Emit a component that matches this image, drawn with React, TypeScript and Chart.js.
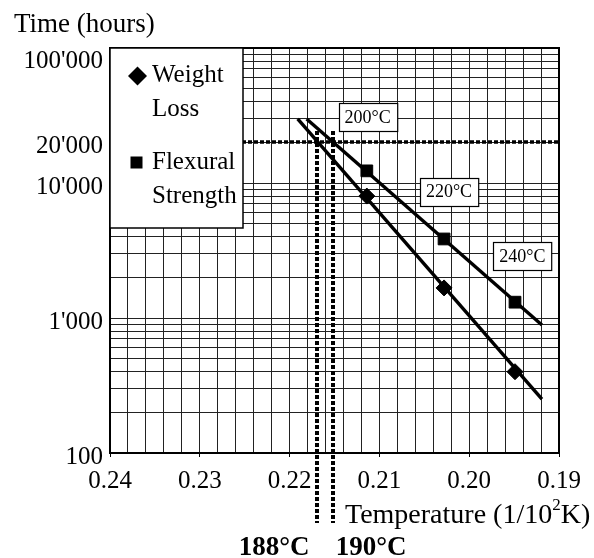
import React, { useEffect, useRef } from 'react';
import { Chart, registerables } from 'chart.js';

Chart.register(...registerables);

// ---- data ----
const tempAxis = [0.2114, 0.2028, 0.1949]; // 1/(100 K) at 200, 220, 240 °C
const weightLoss = [8000, 1670, 400];
const flexuralStrength = [12300, 3850, 1310];
const weightFitX = [0.2191, 0.1919];
const weightFitY = [29800, 251];
const flexFitX = [0.2181, 0.1919];
const flexFitY = [29800, 888];
const tempLabels = ['200°C', '220°C', '240°C'];
const tempLabelX = [0.2113, 0.20225, 0.19407];
const tempLabelY = [30800, 8650, 2855];
const limitLabels = ['188°C', '190°C'];
const limitX = [0.217, 0.2152];
const limitTopY = 24300;
const limitTime = 20000;
const yTickValues = [100, 1000, 10000, 20000, 100000];
const yTickLabels = ['100', "1'000", "10'000", "20'000", "100'000"];
const xMin = 0.19;
const xMax = 0.24;
const yMin = 100;
const yMax = 100000;
const legendLabels = [['Weight', 'Loss'], ['Flexural', 'Strength']];

const SERIF = '"Liberation Serif", "Times New Roman", serif';

function drawDiamond(ctx: CanvasRenderingContext2D, x: number, y: number, r: number) {
  ctx.beginPath();
  ctx.moveTo(x - r, y);
  ctx.lineTo(x, y - r);
  ctx.lineTo(x + r, y);
  ctx.lineTo(x, y + r);
  ctx.closePath();
  ctx.fill();
}

const overlayPlugin = {
  id: 'overlay',
  beforeDatasetsDraw(chart: any) {
    const { ctx, chartArea, scales } = chart;
    const xs = scales.x;
    const ys = scales.y;
    ctx.save();
    ctx.strokeStyle = '#000';
    // horizontal dotted line at 20'000 h
    ctx.lineWidth = 3.5;
    ctx.setLineDash([4, 2]);
    const yl = Math.round(ys.getPixelForValue(limitTime));
    ctx.beginPath();
    ctx.moveTo(chartArea.left, yl);
    ctx.lineTo(chartArea.right, yl);
    ctx.stroke();
    // vertical dotted lines
    ctx.lineWidth = 4;
    ctx.setLineDash([4, 2]);
    limitX.forEach((v) => {
      const px = Math.round(xs.getPixelForValue(v));
      ctx.beginPath();
      ctx.moveTo(px, ys.getPixelForValue(limitTopY));
      ctx.lineTo(px, chartArea.bottom + 70);
      ctx.stroke();
    });
    ctx.restore();
  },
  afterDatasetsDraw(chart: any) {
    const { ctx, chartArea, scales } = chart;
    const xs = scales.x;
    const ys = scales.y;
    ctx.save();
    ctx.setLineDash([]);
    // frame top / right
    ctx.strokeStyle = '#000';
    ctx.lineWidth = 2;
    ctx.beginPath();
    ctx.moveTo(chartArea.left, chartArea.top);
    ctx.lineTo(chartArea.right, chartArea.top);
    ctx.lineTo(chartArea.right, chartArea.bottom);
    ctx.stroke();

    // temperature label boxes
    ctx.font = `18px ${SERIF}`;
    ctx.textAlign = 'center';
    ctx.textBaseline = 'middle';
    tempLabels.forEach((t, i) => {
      const cx = xs.getPixelForValue(tempLabelX[i]);
      const cy = ys.getPixelForValue(tempLabelY[i]);
      const w = ctx.measureText(t).width + 12;
      const h = 28;
      const bx = Math.round(cx - w / 2) + 0.5;
      const by = Math.round(cy - h / 2) + 0.5;
      ctx.fillStyle = '#fff';
      ctx.fillRect(bx, by, w, h);
      ctx.strokeStyle = '#000';
      ctx.lineWidth = 1.2;
      ctx.strokeRect(bx, by, w, h);
      ctx.fillStyle = '#000';
      ctx.fillText(t, cx, cy + 1);
    });

    // legend box
    const L = chartArea.left;
    const T = chartArea.top;
    ctx.fillStyle = '#fff';
    ctx.fillRect(L, T, 133, 180);
    ctx.strokeStyle = '#000';
    ctx.lineWidth = 1.5;
    ctx.strokeRect(L, T, 133, 180);
    ctx.fillStyle = '#000';
    drawDiamond(ctx, L + 27.5, T + 28, 9.5);
    ctx.fillRect(L + 20.5, T + 108.5, 12, 12);
    ctx.font = `25px ${SERIF}`;
    ctx.textAlign = 'left';
    ctx.textBaseline = 'alphabetic';
    ctx.fillText(legendLabels[0][0], L + 42, T + 34);
    ctx.fillText(legendLabels[0][1], L + 42, T + 68);
    ctx.fillText(legendLabels[1][0], L + 42, T + 121);
    ctx.fillText(legendLabels[1][1], L + 42, T + 155);

    // y tick labels
    ctx.textAlign = 'right';
    ctx.font = `25px ${SERIF}`;
    yTickValues.forEach((v, i) => {
      const py = ys.getPixelForValue(v);
      const base = Math.max(py + 11, chartArea.top + 20);
      ctx.fillText(yTickLabels[i], chartArea.left - 7, base);
    });

    // axis titles
    ctx.textAlign = 'left';
    ctx.font = `27px ${SERIF}`;
    ctx.fillText('Time (hours)', 14, 32);
    let tx = 345;
    const ty = 523;
    const p1 = 'Temperature (1/10';
    ctx.font = `28px ${SERIF}`;
    ctx.fillText(p1, tx, ty);
    tx += ctx.measureText(p1).width;
    ctx.font = `17px ${SERIF}`;
    ctx.fillText('2', tx, ty - 13);
    tx += ctx.measureText('2').width;
    ctx.font = `28px ${SERIF}`;
    ctx.fillText('K)', tx, ty);

    // limit temperature labels
    ctx.font = `bold 27px ${SERIF}`;
    const b0 = xs.getPixelForValue(limitX[0]);
    const b1 = xs.getPixelForValue(limitX[1]);
    ctx.textAlign = 'right';
    ctx.fillText(limitLabels[0], b0 - 7, 555);
    ctx.textAlign = 'left';
    ctx.fillText(limitLabels[1], b1 + 3, 555);
    ctx.restore();
  },
};

export default function App() {
  const ref = useRef<HTMLCanvasElement | null>(null);
  useEffect(() => {
    if (!ref.current) return;
    const yGrid: number[] = [];
    [100, 1000, 10000].forEach((d) => {
      for (let k = 1; k <= 9; k++) yGrid.push(d * k);
    });
    yGrid.push(100000);
    const chart = new Chart(ref.current, {
      type: 'scatter',
      data: {
        datasets: [
          {
            type: 'line',
            data: weightFitX.map((x, i) => ({ x, y: weightFitY[i] })),
            borderColor: '#000',
            borderWidth: 3.4,
            pointRadius: 0,
            fill: false,
          },
          {
            type: 'line',
            data: flexFitX.map((x, i) => ({ x, y: flexFitY[i] })),
            borderColor: '#000',
            borderWidth: 3.4,
            pointRadius: 0,
            fill: false,
          },
          {
            label: 'Weight Loss',
            data: tempAxis.map((x, i) => ({ x, y: weightLoss[i] })),
            pointStyle: 'rectRot',
            pointRadius: 8,
            backgroundColor: '#000',
            borderColor: '#000',
            borderWidth: 1,
          },
          {
            label: 'Flexural Strength',
            data: tempAxis.map((x, i) => ({ x, y: flexuralStrength[i] })),
            pointStyle: 'rect',
            pointRadius: 8.3,
            backgroundColor: '#000',
            borderColor: '#000',
            borderWidth: 1,
          },
        ],
      } as any,
      options: {
        responsive: false,
        animation: false,
        layout: { padding: { left: 0, right: 35, top: 48, bottom: 0 } },
        plugins: { legend: { display: false }, tooltip: { enabled: false } },
        scales: {
          x: {
            type: 'linear',
            reverse: true,
            min: xMin,
            max: xMax,
            ticks: {
              stepSize: 0.002,
              autoSkip: false,
              maxRotation: 0,
              padding: 9,
              color: '#000',
              font: { family: SERIF, size: 25 },
              callback: (v: any) => {
                const n = Number(v) * 100;
                return Math.abs(n - Math.round(n)) < 1e-6 ? (Math.round(n) / 100).toFixed(2) : '';
              },
            },
            grid: {
              color: '#222',
              lineWidth: 1,
              tickLength: 4,
              tickColor: (c: any) => {
                const n = Number(c.tick?.value) * 100;
                return Math.abs(n - Math.round(n)) < 1e-6 ? '#000' : 'rgba(0,0,0,0)';
              },
            },
            border: { color: '#000', width: 2 },
            afterFit: (s: any) => {
              s.height = 105;
            },
          },
          y: {
            type: 'logarithmic',
            min: yMin,
            max: yMax,
            afterBuildTicks: (s: any) => {
              s.ticks = yGrid.map((v) => ({ value: v }));
            },
            ticks: { display: false },
            grid: { color: '#222', lineWidth: 1, drawTicks: false },
            border: { color: '#000', width: 2 },
            afterFit: (s: any) => {
              s.width = 110;
            },
          },
        },
      } as any,
      plugins: [overlayPlugin],
    });
    return () => chart.destroy();
  }, []);
  return (
    <div style={{ position: 'absolute', left: 0, top: 0, width: 594, height: 558, background: '#fff' }}>
      <canvas ref={ref} width={594} height={558} style={{ display: 'block', width: 594, height: 558 }} />
    </div>
  );
}
